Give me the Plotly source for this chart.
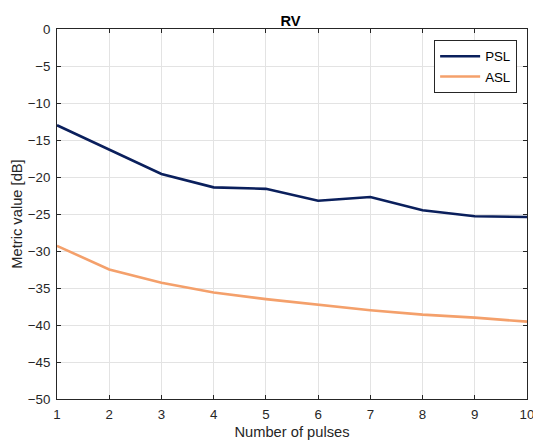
import plotly.graph_objects as go

pulses = [1, 2, 3, 4, 5, 6, 7, 8, 9, 10]
psl = [-13.0, -16.3, -19.6, -21.4, -21.6, -23.2, -22.7, -24.5, -25.3, -25.4]
asl = [-29.3, -32.5, -34.3, -35.6, -36.5, -37.3, -38.0, -38.6, -39.0, -39.55]
y_ticks = [0, -5, -10, -15, -20, -25, -30, -35, -40, -45, -50]

FONT = "Liberation Sans, Arial, Helvetica"

fig = go.Figure()
fig.add_trace(go.Scatter(x=pulses, y=psl, mode="lines", name="PSL",
                         line=dict(color="#0a1f5c", width=2.6)))
fig.add_trace(go.Scatter(x=pulses, y=asl, mode="lines", name="ASL",
                         line=dict(color="#f4a06b", width=2.6)))

axis_common = dict(showline=True, linecolor="#262626", linewidth=1, mirror="ticks",
                   ticks="inside", ticklen=4, tickcolor="#262626",
                   showgrid=True, gridcolor="#e3e3e3", gridwidth=1, zeroline=False,
                   ticklabeloverflow="allow", automargin=False,
                   tickfont=dict(family=FONT, size=13.3, color="#262626"))

fig.update_layout(
    width=533, height=444,
    margin=dict(l=57, r=6, t=29, b=45),
    paper_bgcolor="white", plot_bgcolor="white",
    title=dict(text="<b>RV</b>", x=0.545, xanchor="center", y=0.965, yanchor="top",
               font=dict(family=FONT, size=14.7, color="#000000")),
    xaxis=dict(range=[1, 10], tickvals=pulses, ticklabelstandoff=3,
               title=dict(text="Number of pulses", standoff=5,
                          font=dict(family=FONT, size=14.7, color="#262626")), **axis_common),
    yaxis=dict(range=[-50, 0], tickvals=y_ticks, ticklabelstandoff=3,
               title=dict(text="Metric value [dB]", standoff=1,
                          font=dict(family=FONT, size=14.7, color="#262626")), **axis_common),
    legend=dict(x=0.979, y=0.97, xanchor="right", yanchor="top",
                bgcolor="white", bordercolor="#262626", borderwidth=1,
                font=dict(family=FONT, size=13.3, color="#000000"),
                itemwidth=40, tracegroupgap=0),
    showlegend=True,
)

fig.write_html("out.html")
